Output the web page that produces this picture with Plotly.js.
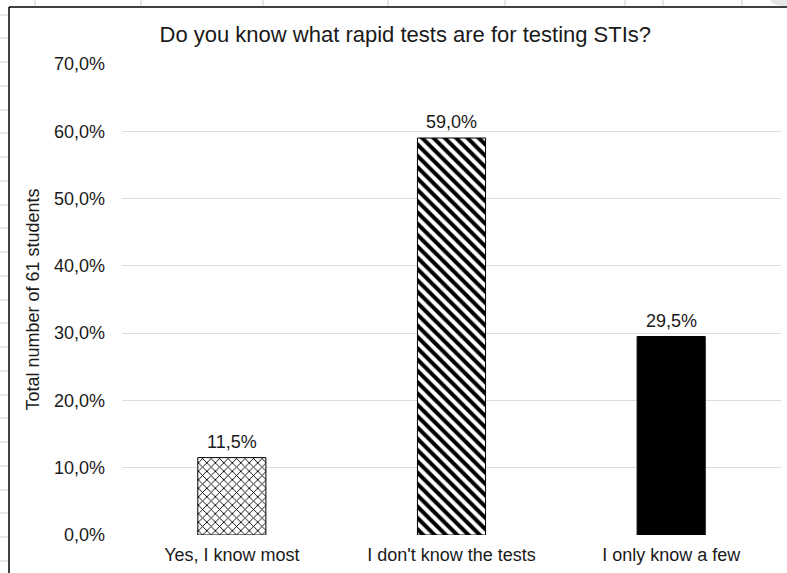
<!DOCTYPE html>
<html>
<head>
<meta charset="utf-8">
<script src="https://cdn.plot.ly/plotly-3.0.1.min.js"></script>
<style>html,body{margin:0;padding:0;background:#fff;}#chart{width:787px;height:573px;}</style>
</head>
<body>
<div id="chart"></div>
<script>
var categories = ["Yes, I know most", "I don't know the tests", "I only know a few"];
var percentValues = [11.5, 59.0, 29.5];
var yTickValues = [0, 10, 20, 30, 40, 50, 60, 70];
var yTickLabels = ["0,0%", "10,0%", "20,0%", "30,0%", "40,0%", "50,0%", "60,0%", "70,0%"];
var chartTitle = "Do you know what rapid tests are for testing STIs?";
var yTitle = "Total number of 61 students";

var barPatterns = [
  {shape: 'x', size: 6, solidity: 0.28, color: '#ffffff'},
  {shape: '\\', size: 8, solidity: 0.5, color: '#ffffff'},
  {shape: '', size: 8, solidity: 0.5, color: '#000000'}
];

function fmt(v){ return v.toFixed(1).replace('.', ',') + '%'; }

var FONT = 'Liberation Sans, Arial, sans-serif';
var W = 787, H = 573, ml = 122, mr = 6, mt = 64, mb = 38;
var pw = W - ml - mr, ph = H - mt - mb;
function px(x){ return (x - ml) / pw; }
function py(y){ return (H - mb - y) / ph; }

var shapes = [];
shapes.push({type:'line', xref:'paper', yref:'paper', x0:px(9), x1:px(787), y0:py(7), y1:py(7), line:{color:'#000', width:1.5}});
shapes.push({type:'line', xref:'paper', yref:'paper', x0:px(9), x1:px(9), y0:py(7), y1:py(573), line:{color:'#000', width:1.5}});
var rowTicks = [15, 38, 62, 86, 110, 133, 157, 181, 205, 228, 252, 276, 300, 323, 347, 371, 395, 418, 442, 466, 490, 513, 537, 561];
rowTicks.forEach(function(y){
  shapes.push({type:'line', xref:'paper', yref:'paper', x0:px(0), x1:px(8), y0:py(y), y1:py(y), line:{color:'#cfcfcf', width:1}});
});
var colTicks = [35, 141, 263, 388, 505, 625, 663, 742];
colTicks.forEach(function(x){
  shapes.push({type:'line', xref:'paper', yref:'paper', x0:px(x), x1:px(x), y0:py(0), y1:py(6), line:{color:'#cfcfcf', width:1}});
});
shapes.push({type:'circle', xref:'paper', yref:'paper', x0:px(768), x1:px(800), y0:py(-14), y1:py(6), fillcolor:'#e6e6e6', line:{width:0}});

var traces = categories.map(function(c, i){
  var p = barPatterns[i];
  var marker = {color: p.color, line: {color: '#000000', width: 1}};
  if (p.shape) {
    marker.pattern = {shape: p.shape, fgcolor: '#000000', fgopacity: 1, bgcolor: '#ffffff', size: p.size, solidity: p.solidity, fillmode: 'overlay'};
  }
  return {
    type: 'bar',
    x: [c],
    y: [percentValues[i]],
    width: 0.31,
    marker: marker,
    hoverinfo: 'none'
  };
});

var annotations = categories.map(function(c, i){
  return {
    x: c, y: percentValues[i], xref: 'x', yref: 'y',
    text: fmt(percentValues[i]), showarrow: false,
    yanchor: 'bottom', yshift: 4,
    font: {family: FONT, size: 18, color: '#1a1a1a'}
  };
});

var layout = {
  width: W, height: H,
  margin: {l: ml, r: mr, t: mt, b: mb},
  paper_bgcolor: '#ffffff',
  plot_bgcolor: '#ffffff',
  showlegend: false,
  barmode: 'overlay',
  title: {text: chartTitle, font: {family: FONT, size: 22, color: '#1a1a1a'}, x: 0.515, xanchor: 'center', y: 0.94, yanchor: 'middle'},
  xaxis: {
    type: 'category', categoryarray: categories,
    showgrid: false, zeroline: false, showline: false, ticks: '',
    ticklabelstandoff: 7,
    tickfont: {family: FONT, size: 18, color: '#1a1a1a'}
  },
  yaxis: {
    range: [0, 70],
    tickvals: yTickValues, ticktext: yTickLabels,
    showgrid: true, gridcolor: '#dcdcdc', gridwidth: 1,
    zeroline: false, showline: false, ticks: '',
    ticklabelstandoff: 16,
    tickfont: {family: FONT, size: 18, color: '#1a1a1a'},
    title: {text: yTitle, font: {family: FONT, size: 18, color: '#1a1a1a'}, standoff: 9}
  },
  annotations: annotations,
  shapes: shapes
};

Plotly.newPlot('chart', traces, layout, {displayModeBar: false, staticPlot: true});
</script>
</body>
</html>
